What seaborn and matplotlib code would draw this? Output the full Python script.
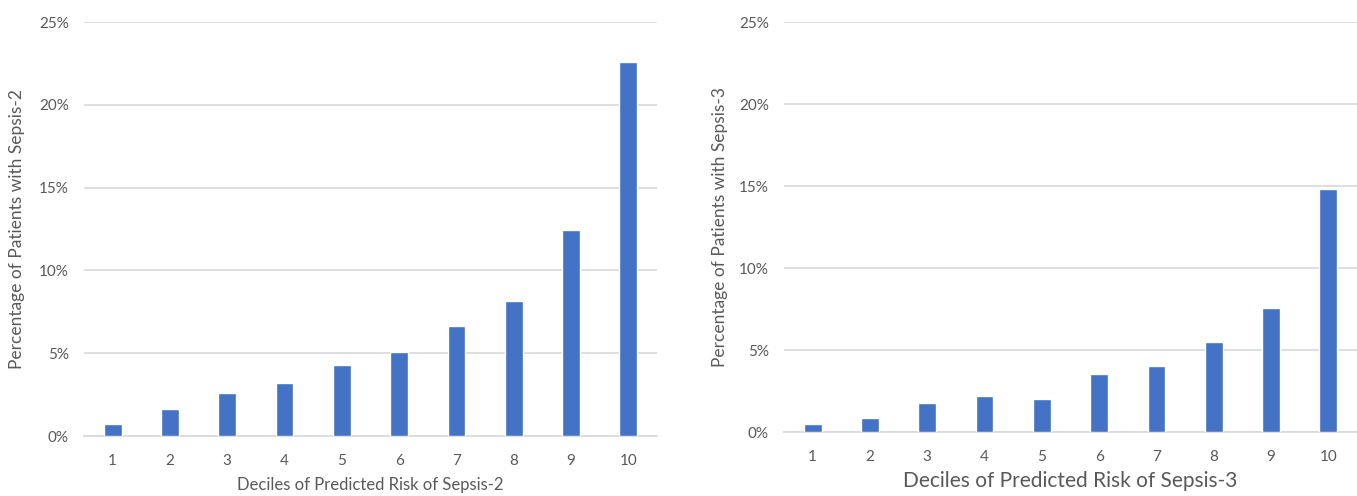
import matplotlib
matplotlib.use("Agg")
import matplotlib.pyplot as plt
import seaborn as sns
from matplotlib.ticker import FuncFormatter

# data
deciles = ["1", "2", "3", "4", "5", "6", "7", "8", "9", "10"]
sepsis2_pct = [0.71, 1.63, 2.62, 3.18, 4.27, 5.10, 6.67, 8.18, 12.41, 22.56]
sepsis3_pct = [0.49, 0.86, 1.79, 2.18, 2.02, 3.56, 4.03, 5.50, 7.59, 14.84]
y_ticks = [0, 5, 10, 15, 20, 25]

sns.set_theme(style="white")
plt.rcParams["font.family"] = ["Lato", "DejaVu Sans"]

bar_color = "#4472C4"
grid_color = "#D9D9D9"
text_color = "#595959"

fig = plt.figure(figsize=(13.57, 4.96), dpi=100)
ax1 = fig.add_axes([84 / 1357, 1 - 436 / 496, 573 / 1357, 414 / 496])
ax2 = fig.add_axes([784 / 1357, 1 - 432 / 496, 573 / 1357, 410 / 496])

panels = [
    (ax1, sepsis2_pct, "Deciles of Predicted Risk of Sepsis-2",
     "Percentage of Patients with Sepsis-2", 12, -0.103, -0.098),
    (ax2, sepsis3_pct, "Deciles of Predicted Risk of Sepsis-3",
     "Percentage of Patients with Sepsis-3", 15, -0.098, -0.095),
]

for ax, vals, xlab, ylab, xlab_size, ylab_x, xlab_y in panels:
    sns.barplot(x=deciles, y=vals, ax=ax, color=bar_color, width=0.31,
                saturation=1, zorder=3)
    ax.set_xlim(-0.5, 9.5)
    ax.set_ylim(0, 25)
    ax.set_yticks(y_ticks)
    ax.yaxis.set_major_formatter(FuncFormatter(lambda v, p: f"{int(v)}%"))
    ax.yaxis.grid(True, color=grid_color, linewidth=1.2, zorder=0)
    ax.xaxis.grid(False)
    for s in ["top", "left", "right"]:
        ax.spines[s].set_visible(False)
    ax.spines["bottom"].set_color(grid_color)
    ax.spines["bottom"].set_linewidth(1.2)
    ax.tick_params(axis="both", length=0, labelsize=11, colors=text_color)
    ax.tick_params(axis="y", pad=11)
    ax.tick_params(axis="x", pad=13)
    ax.set_xlabel(xlab, fontsize=xlab_size, color=text_color)
    ax.set_ylabel(ylab, fontsize=12.5, color=text_color)
    ax.yaxis.set_label_coords(ylab_x, 0.5)
    ax.xaxis.set_label_coords(0.5, xlab_y)

fig.savefig("out.png", dpi=100)
